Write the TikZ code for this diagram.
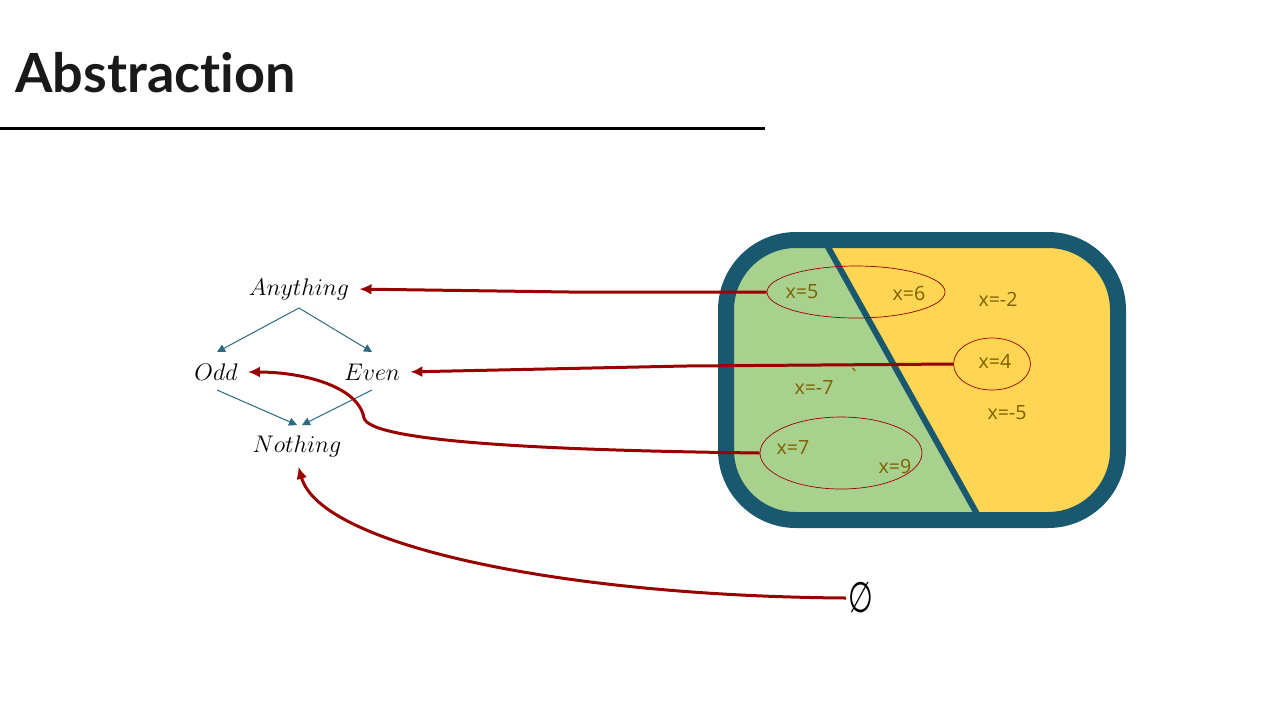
\documentclass[tikz,border=0pt]{standalone}
\usepackage{fontspec}
\setmainfont{Open Sans}
\newfontfamily\titlefont[Ligatures=NoCommon]{Lato}
\newfontfamily\symfont{DejaVu Sans}
\usetikzlibrary{arrows.meta,shapes.geometric}
\definecolor{boxteal}{HTML}{1A5870}
\definecolor{treeteal}{HTML}{2C6A82}
\definecolor{setgreen}{HTML}{A9D18E}
\definecolor{setyellow}{HTML}{FFD653}
\definecolor{mapred}{HTML}{990000}
\definecolor{valtext}{HTML}{7F6000}
\tikzset{
  lattice/.style={font=\fontsize{11.5}{14}\selectfont, inner sep=2pt},
  val/.style={font=\fontsize{9.8}{11}\selectfont, text=valtext, inner sep=0pt},
  group/.style={draw=mapred, line width=0.35pt, ellipse, inner sep=0pt},
  order/.style={draw=treeteal, line width=0.5pt, -{Triangle[length=4pt,width=4pt]}},
  absmap/.style={draw=mapred, line width=1.5pt, -{Latex[length=6pt,width=5.5pt]}, shorten >=3pt}
}
\begin{document}
\begin{tikzpicture}[x=0.5pt,y=-0.5pt]
  \useasboundingbox (0,0) rectangle (1280,720);
  % title
  \node[anchor=west, inner sep=0pt, font=\titlefont\bfseries\fontsize{27}{32}\selectfont, text=black!90] (title) at (15,73) {Abstraction};
  \draw[line width=1.5pt] (0,128) -- (765,128);

  % lattice
  \node[lattice] (any) at (299,289) {$Anything$};
  \node[lattice] (odd) at (216,372) {$Odd$};
  \node[lattice] (even) at (372,372) {$Even$};
  \node[lattice] (nothing) at (297,446) {$Nothing$};
  \coordinate (top) at (299,308);
  \draw[order] (top) -- (217,352);
  \draw[order] (top) -- (372,352);
  \draw[order] (217,390) -- (297,425);
  \draw[order] (372,390) -- (302,425);

  % concrete values
  \begin{scope}
    \clip[rounded corners=35pt] (726,240) rectangle (1118,520);
    \fill[setgreen] (700,220) rectangle (1140,540);
    \fill[setyellow] (818.5,230) -- (1140,230) -- (1140,540) -- (986,530) -- cycle;
    \draw[boxteal, line width=3pt] (818.5,230) -- (986,530);
  \end{scope}
  \draw[boxteal, line width=8pt, rounded corners=35pt] (726,240) rectangle (1118,520);

  \node[group, minimum width=89pt, minimum height=26pt] (e1) at (856,292) {};
  \node[group, minimum width=38.5pt, minimum height=26pt] (e2) at (992,364) {};
  \node[group, minimum width=81pt, minimum height=36pt] (e3) at (841,453) {};

  \node[val] (v5) at (802,292) {x=5};
  \node[val] (v6) at (909,293) {x=6};
  \node[val] (vm2) at (998,299) {x=-2};
  \node[val] (v4) at (995,361) {x=4};
  \node[val] (vm7) at (814,387) {x=-7};
  \node[val] (vm5) at (1007,413) {x=-5};
  \node[val] (v7) at (793,447) {x=7};
  \node[val] (v9) at (895,466) {x=9};
  \node[val] (tick) at (854,376) {\textasciigrave};

  \node[inner sep=1pt, font=\symfont\fontsize{19}{21}\selectfont] (phi) at (861,598) {\scalebox{0.75}[1.12]{∅}};

  % abstraction maps
  \draw[absmap] (e1.west) -- (570,292) -- (any.east);
  \draw[absmap] (e2.west) -- (685,366) -- (even.east);
  \draw[absmap] (e3.west) .. controls (520,450) and (370,440) .. (364,418)
    .. controls (358,385) and (300,372) .. (odd.east);
  \draw[absmap] (phi.west) .. controls (560,596) and (320,545) .. (nothing.south);
\end{tikzpicture}
\end{document}
